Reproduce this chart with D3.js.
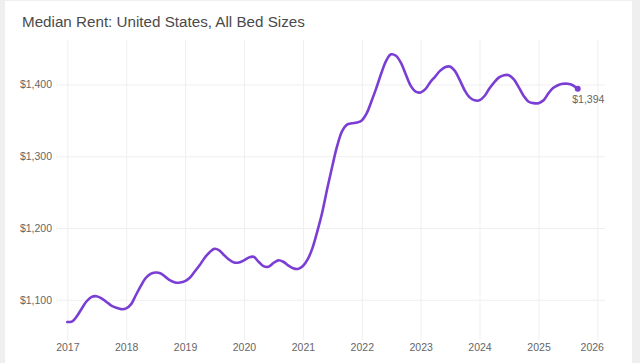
<!DOCTYPE html>
<html>
<head>
<meta charset="utf-8">
<script src="https://cdn.jsdelivr.net/npm/d3@7"></script>
<style>
  body { margin: 0; background: #efefef; }
  svg { display: block; font-family: "Liberation Sans", Arial, Helvetica, sans-serif; }
  .grid line { stroke: #efefef; }
  .grid .domain { display: none; }
  .grid text { fill: #666; font-size: 10.5px; }
</style>
</head>
<body>
<svg width="640" height="363"></svg>
<script>
// monthly median rent, Jan 2017 .. Sep 2025
let years = [2017, 2018, 2019, 2020, 2021, 2022, 2023, 2024, 2025];
let rent = [
  // 2017
  1069, 1070, 1077, 1088, 1098, 1104, 1105, 1102, 1097, 1092, 1089, 1087,
  // 2018
  1088, 1094, 1106, 1119, 1130, 1136, 1138, 1137, 1132, 1127, 1124, 1124,
  // 2019
  1126, 1131, 1139, 1148, 1158, 1166, 1171, 1169, 1162, 1156, 1152, 1152,
  // 2020
  1155, 1159, 1160, 1153, 1147, 1146, 1151, 1155, 1153, 1148, 1144, 1143,
  // 2021
  1147, 1157, 1172, 1196, 1222, 1255, 1285, 1314, 1335, 1344, 1346, 1347,
  // 2022
  1350, 1360, 1376, 1395, 1415, 1433, 1442, 1440, 1430, 1414, 1398, 1390,
  // 2023
  1389, 1394, 1403, 1411, 1419, 1424, 1425, 1419, 1406, 1392, 1382, 1378,
  // 2024
  1378, 1384, 1394, 1403, 1410, 1413, 1413, 1407, 1396, 1384, 1376, 1374,
  // 2025
  1374, 1378, 1387, 1395, 1399, 1401, 1401, 1399, 1394
];
let yTicks = [1100, 1200, 1300, 1400];
let xTickYears = [2017, 2018, 2019, 2020, 2021, 2022, 2023, 2024, 2025, 2026];

let data = rent.map((v, i) => ({ date: new Date(years[0], i, 1), value: v }));

let svg = d3.select("svg");

// white card
svg.append("rect")
  .attr("x", 5).attr("y", 1)
  .attr("width", 627).attr("height", 362)
  .attr("fill", "#fff");

svg.append("text")
  .attr("x", 22)
  .attr("y", 27)
  .attr("fill", "#4a4a4a")
  .attr("font-size", "15.2px")
  .text("Median Rent: United States, All Bed Sizes");

let plotLeft = 57, plotRight = 605, plotTop = 40, plotBottom = 340;

var xScale = d3.scaleTime()
  .domain([new Date(2017, 0, 1), new Date(2026, 0, 1)])
  .range([67.3, 597.4]);
var yScale = d3.scaleLinear()
  .domain([1044, 1462])
  .range([plotBottom, plotTop]);

// y axis + horizontal grid
svg.append("g")
  .attr("class", "grid")
  .attr("transform", "translate(" + plotLeft + ",0)")
  .call(d3.axisLeft(yScale)
    .tickValues(yTicks)
    .tickSize(-(plotRight - plotLeft))
    .tickPadding(5)
    .tickFormat(d => "$" + d3.format(",")(d)));

// x axis + vertical grid
let xAxisG = svg.append("g")
  .attr("class", "grid")
  .attr("transform", "translate(0," + plotBottom + ")")
  .call(d3.axisBottom(xScale)
    .tickValues(xTickYears.map(y => new Date(y, 0, 1)))
    .tickSize(-(plotBottom - plotTop))
    .tickPadding(4)
    .tickFormat(d3.timeFormat("%Y")));

// last label is pulled in so it stays inside the plot
xAxisG.selectAll(".tick:last-of-type text")
  .attr("text-anchor", "end")
  .attr("x", 6);

var line = d3.line()
  .curve(d3.curveCatmullRom.alpha(0.5))
  .x(d => xScale(d.date))
  .y(d => yScale(d.value));

svg.append("path")
  .datum(data)
  .attr("fill", "none")
  .attr("stroke", "#7b3ed5")
  .attr("stroke-width", 2.6)
  .attr("stroke-linejoin", "round")
  .attr("stroke-linecap", "round")
  .attr("d", line);

let last = data[data.length - 1];
svg.append("circle")
  .attr("cx", xScale(last.date))
  .attr("cy", yScale(last.value))
  .attr("r", 3)
  .attr("fill", "#7b3ed5");

svg.append("text")
  .attr("x", xScale(last.date) - 5.5)
  .attr("y", yScale(last.value) + 14)
  .attr("fill", "#666")
  .attr("font-size", "10.5px")
  .text("$" + d3.format(",")(last.value));
</script>
</body>
</html>
